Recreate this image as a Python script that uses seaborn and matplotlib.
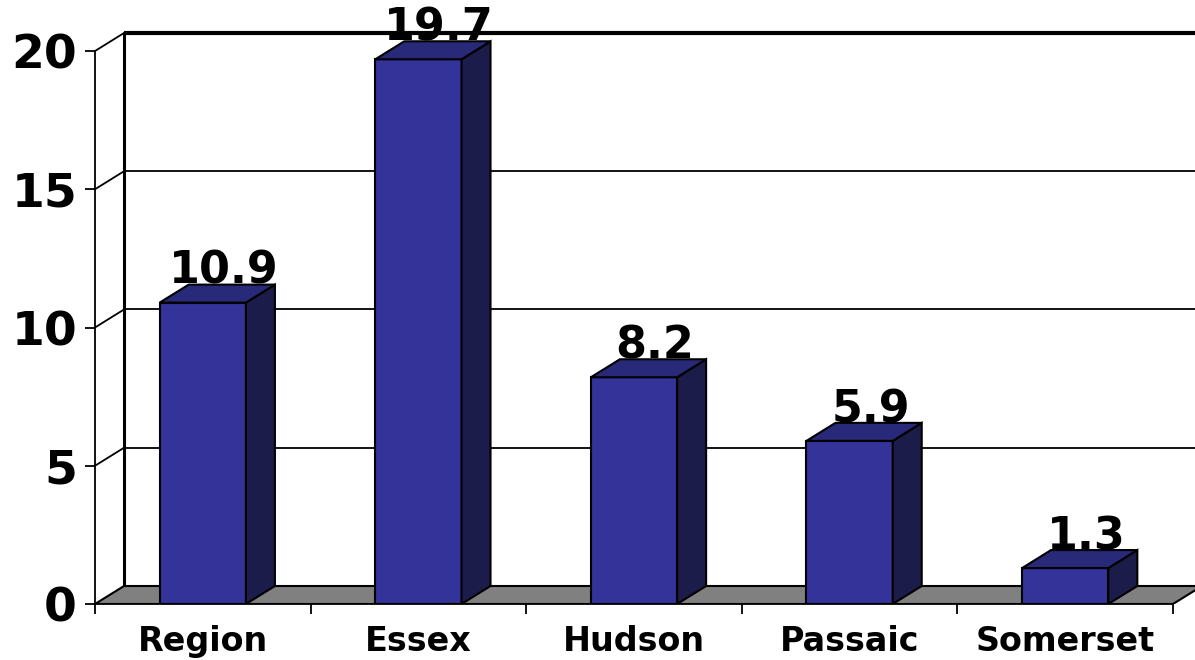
import matplotlib
matplotlib.use("Agg")
import matplotlib.pyplot as plt
from matplotlib.patches import Polygon
from matplotlib.ticker import FixedLocator
import seaborn as sns
import pandas as pd

categories = ["Region", "Essex", "Hudson", "Passaic", "Somerset"]
values = [10.9, 19.7, 8.2, 5.9, 1.3]
y_ticks = [0, 5, 10, 15, 20]

sns.set_style("white")
plt.rcParams["font.family"] = ["DejaVu Sans"]
plt.rcParams["font.weight"] = "bold"
plt.rcParams["text.color"] = "black"
plt.rcParams["xtick.color"] = "black"
plt.rcParams["ytick.color"] = "black"
plt.rcParams["xtick.labelcolor"] = "black"
plt.rcParams["ytick.labelcolor"] = "black"

FRONT = "#333399"
TOP = "#29297A"
SIDE = "#1C1C4A"
FLOOR = "#808080"

dx = 0.1345   # depth offset in category units
dy = 0.651    # depth offset in value units

fig = plt.figure(figsize=(11.95, 6.6), dpi=100)
ax = fig.add_axes([95 / 1195, 56 / 660, 1100 / 1195, (604 - 23.35) / 660])

df = pd.DataFrame({"cat": categories, "val": values})
sns.barplot(data=df, x="cat", y="val", color=FRONT, saturation=1, width=0.40,
            edgecolor="black", linewidth=1.5, ax=ax, zorder=5)

ax.set_xlim(-0.5, 4.602)
ax.set_ylim(0, 21)
ax.set_xlabel("")
ax.set_ylabel("")

n = len(categories)
x0, x1 = -0.5, n - 0.5

# floor
ax.add_patch(Polygon([(x0, 0), (x0 + dx, dy), (x1 + dx, dy), (x1, 0)],
                     closed=True, facecolor=FLOOR, edgecolor="black",
                     linewidth=1.5, zorder=2, clip_on=True))

# back wall gridlines and side wall diagonals
for v in y_ticks[1:]:
    lw = 3 if v == y_ticks[-1] else 1.3
    ax.plot([x0 + dx, x1 + dx], [v + dy, v + dy], color="black", lw=lw,
            zorder=1, clip_on=True, solid_capstyle="butt")
    ax.plot([x0, x0 + dx], [v, v + dy], color="black", lw=1.3, zorder=1,
            clip_on=False)
ax.plot([x0 + dx, x0 + dx], [dy, y_ticks[-1] + dy], color="black", lw=2.2,
        zorder=1, clip_on=False)

# 3D faces of bars
for p, v in zip(ax.patches[:n], values):
    bx = p.get_x()
    w = p.get_width()
    h = p.get_height()
    top = Polygon([(bx, h), (bx + dx, h + dy), (bx + w + dx, h + dy), (bx + w, h)],
                  closed=True, facecolor=TOP, edgecolor="black", linewidth=1.5,
                  zorder=6)
    side = Polygon([(bx + w, 0), (bx + w + dx, dy), (bx + w + dx, h + dy), (bx + w, h)],
                   closed=True, facecolor=SIDE, edgecolor="black", linewidth=1.5,
                   zorder=6)
    ax.add_patch(side)
    ax.add_patch(top)
    ax.text(bx + w / 2 + dx * 0.72, h + dy + 0.03, f"{v}", ha="center",
            va="baseline", fontsize=32, fontweight="bold", color="black",
            zorder=7)

# spines
for s in ["top", "right"]:
    ax.spines[s].set_visible(False)
ax.spines["left"].set_bounds(0, y_ticks[-1])
ax.spines["left"].set_linewidth(1.3)
ax.spines["left"].set_color("black")
ax.spines["left"].set_zorder(3)
ax.spines["bottom"].set_bounds(x0, x1)
ax.spines["bottom"].set_linewidth(1.3)
ax.spines["bottom"].set_color("black")
ax.spines["bottom"].set_zorder(8)

ax.set_yticks(y_ticks)
ax.set_yticklabels([str(t) for t in y_ticks])
ax.tick_params(axis="y", direction="out", length=7, width=1.3, pad=6,
               labelsize=34, left=True, colors="black")
for lab in ax.get_yticklabels():
    lab.set_fontweight("bold")

ax.set_xticks(range(n))
ax.set_xticklabels(categories)
ax.tick_params(axis="x", which="major", length=0, pad=15, labelsize=24,
               colors="black")
for lab in ax.get_xticklabels():
    lab.set_fontweight("bold")
ax.xaxis.set_minor_locator(FixedLocator([i - 0.5 for i in range(n + 1)]))
ax.tick_params(axis="x", which="minor", direction="out", length=7, width=1.3,
               bottom=True, colors="black")

fig.savefig("out.png", dpi=100)
